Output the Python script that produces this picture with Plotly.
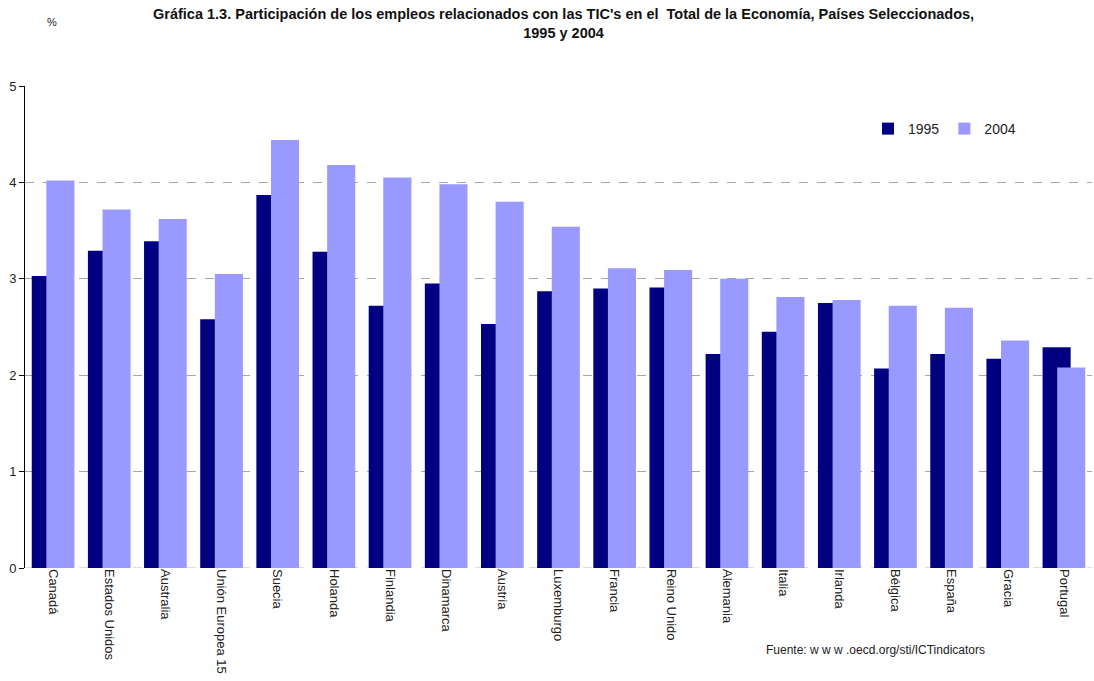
import plotly.graph_objects as go

paises = ["Canadá", "Estados Unidos", "Australia", "Unión Europea 15", "Suecia",
          "Holanda", "Finlandia", "Dinamarca", "Austria", "Luxemburgo", "Francia",
          "Reino Unido", "Alemania", "Italia", "Irlanda", "Bélgica", "España",
          "Gracia", "Portugal"]
v1995 = [3.03, 3.29, 3.39, 2.58, 3.87, 3.28, 2.72, 2.95, 2.53, 2.87, 2.90,
         2.91, 2.22, 2.45, 2.75, 2.07, 2.22, 2.17, 2.29]
v2004 = [4.02, 3.72, 3.62, 3.05, 4.44, 4.18, 4.05, 3.98, 3.80, 3.54, 3.11,
         3.09, 3.00, 2.81, 2.78, 2.72, 2.70, 2.36, 2.08]
y_ticks = [0, 1, 2, 3, 4, 5]

FONT = "Arial, 'Liberation Sans', sans-serif"
W, H = 1094, 681
L, R, T, B = 25, 2, 86, 113
pw, ph = W - L - R, H - T - B


def px(x):
    return (x - L) / pw


def py(y):
    return (H - B - y) / ph


fig = go.Figure()
fig.add_trace(go.Bar(x=paises, y=v1995, name="1995", marker_color="#000080",
                     marker_line_width=0, width=0.5, offset=-0.38))
fig.add_trace(go.Bar(x=paises, y=v2004, name="2004", marker_color="#9999FF",
                     marker_line_width=0, width=0.5, offset=-0.12))

fig.update_layout(
    width=W, height=H,
    margin=dict(l=L, r=R, t=T, b=B),
    barmode="overlay",
    plot_bgcolor="white", paper_bgcolor="white",
    font=dict(family=FONT, size=12, color="#222"),
    showlegend=True,
    legend=dict(orientation="h", x=px(868), y=py(129), xanchor="left", yanchor="middle",
                font=dict(size=14, color="#222"), bgcolor="rgba(0,0,0,0)",
                itemwidth=30, tracegroupgap=0),
    xaxis=dict(showgrid=False, showline=False, ticks="", tickangle=90,
               tickfont=dict(size=13, color="#222"), range=[-0.5, len(paises) - 0.5]),
    yaxis=dict(range=[0, 5], tickvals=y_ticks, showgrid=True, gridcolor="#A6A6A6",
               griddash="dash", gridwidth=1, zeroline=False, showline=True,
               linecolor="black", linewidth=1, ticks="outside", ticklen=5,
               tickcolor="black", tickfont=dict(size=13, color="#222")),
)

# dashed baseline at zero across the plot
fig.add_shape(type="line", xref="paper", yref="y", x0=0, x1=1, y0=0, y1=0,
              line=dict(color="#BDBDBD", width=1, dash="dash"), layer="below")

fig.add_annotation(xref="paper", yref="paper", x=px(563), y=py(4), xanchor="center",
                   yanchor="top", showarrow=False, align="center",
                   text="<b>Gráfica 1.3. Participación de los empleos relacionados con las TIC's en el  Total de la Economía, Países Seleccionados,<br>1995 y 2004</b>",
                   font=dict(size=14.5, color="#111"))
fig.add_annotation(xref="paper", yref="paper", x=px(52), y=py(22), xanchor="center",
                   yanchor="middle", showarrow=False, text="%",
                   font=dict(size=11, color="#222"))
fig.add_annotation(xref="paper", yref="paper", x=px(875), y=py(650), xanchor="center",
                   yanchor="middle", showarrow=False,
                   text="Fuente: w w w .oecd.org/sti/ICTindicators",
                   font=dict(size=12, color="#222"))

fig.write_html("out.html")
